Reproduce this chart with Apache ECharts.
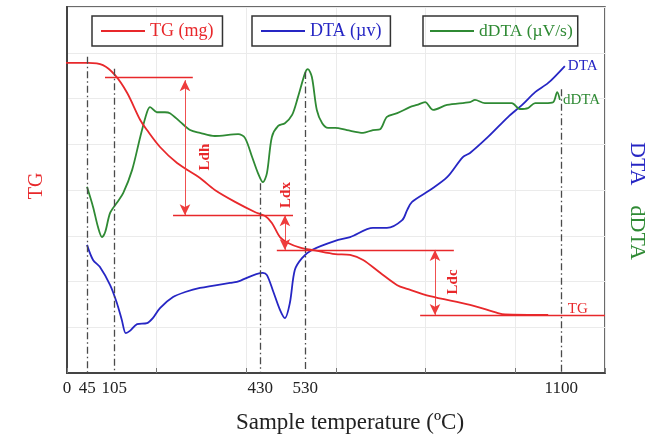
<!DOCTYPE html>
<html><head><meta charset="utf-8">
<script src="https://cdn.jsdelivr.net/npm/echarts@6/dist/echarts.min.js"></script>
<style>html,body{margin:0;padding:0;background:#fff}#c{width:660px;height:436px}</style>
</head><body><div id="c"></div>
<script>
// ---- data ----
const tickLabels = [0, 45, 105, 430, 530, 1100];
const markerTemps = [45, 105, 430, 530, 1100];
const markerTops = [6.91, 6.65, 4.15, 6.58, 6.2];

const tgTemp = [-11, 47, 80, 107, 134, 163, 178, 207, 245, 296, 329, 374, 418, 441, 456, 474, 492, 519, 552, 597, 630, 659, 697, 735, 757, 808, 897, 959, 975, 1071];
const tgMass = [6.78, 6.78, 6.73, 6.51, 6.12, 5.53, 5.31, 4.94, 4.59, 4.26, 4.00, 3.74, 3.52, 3.43, 3.28, 2.97, 2.84, 2.74, 2.68, 2.60, 2.58, 2.47, 2.19, 1.92, 1.84, 1.68, 1.49, 1.31, 1.28, 1.27];

const dtaTemp = [44.5, 58, 73, 96, 111, 122, 131, 140, 156, 178, 191, 207, 236, 263, 296, 363, 378, 436, 445, 458, 474, 485, 496, 507, 523, 545, 597, 630, 681, 712, 746, 757, 768, 808, 846, 881, 897, 937, 982, 1013, 1042, 1071, 1108];
const dtaVal = [2.80, 2.47, 2.32, 1.92, 1.53, 1.16, 0.87, 0.92, 1.07, 1.09, 1.20, 1.42, 1.66, 1.77, 1.86, 1.97, 1.99, 2.19, 2.14, 1.81, 1.38, 1.20, 1.53, 2.25, 2.51, 2.69, 2.89, 2.97, 3.17, 3.17, 3.34, 3.56, 3.74, 4.00, 4.28, 4.72, 4.81, 5.16, 5.60, 5.86, 6.14, 6.34, 6.71];

const ddtaTemp = [44.5, 58, 69, 78, 85, 96, 111, 125, 145, 163, 178, 185, 200, 218, 229, 252, 274, 296, 329, 381, 396, 412, 425, 436, 445, 456, 470, 485, 501, 514, 530, 536, 545, 556, 568, 581, 597, 623, 659, 681, 697, 712, 735, 763, 779, 797, 815, 846, 897, 908, 930, 959, 990, 1008, 1026, 1042, 1064, 1082, 1091, 1097];
const ddtaVal = [4.07, 3.63, 3.19, 2.97, 3.08, 3.50, 3.72, 3.93, 4.44, 5.16, 5.70, 5.81, 5.70, 5.70, 5.68, 5.49, 5.31, 5.25, 5.18, 5.22, 5.14, 4.72, 4.37, 4.17, 4.37, 5.16, 5.40, 5.46, 5.64, 6.03, 6.56, 6.64, 6.47, 5.75, 5.46, 5.36, 5.36, 5.31, 5.25, 5.31, 5.33, 5.60, 5.68, 5.81, 5.86, 5.92, 5.75, 5.86, 5.92, 5.97, 5.90, 5.90, 5.90, 5.77, 5.79, 5.90, 5.90, 5.92, 6.14, 5.97];

// ---- styling ----
const red = '#e8282b', blue = '#2626c4', green = '#2f8a34';
const serif = "'Liberation Serif','Times New Roman',serif";
const zip = (a, b) => a.map((t, i) => [t, b[i]]);
const X_MAX = 1197.4;

const dashdot = {color: '#4a4a4a', width: 1.3, type: [7, 3, 1.5, 3]};
const hl = {color: red, width: 1.4, type: 'solid'};
const al = {color: '#ee3c3c', width: 0.9, type: 'solid'};
const arrowEnd = {symbol: 'arrow', symbolSize: [8, 11]};

const lineMarks = markerTemps.map((t, i) => [
  {coord: [t, markerTops[i]], lineStyle: dashdot}, {coord: [t, 0]}
]).concat([
  [{coord: [84.6, 6.47], lineStyle: hl}, {coord: [280, 6.47]}],
  [{coord: [236, 3.45], lineStyle: hl}, {coord: [503, 3.45]}],
  [{coord: [467, 2.69], lineStyle: hl}, {coord: [861, 2.69]}],
  [{coord: [786, 1.27], lineStyle: hl}, {coord: [X_MAX, 1.27]}],
  [Object.assign({coord: [262.6, 6.40], lineStyle: al}, arrowEnd), Object.assign({coord: [262.6, 3.45]}, arrowEnd)],
  [Object.assign({coord: [485, 3.45], lineStyle: al}, arrowEnd), Object.assign({coord: [485, 2.69]}, arrowEnd)],
  [Object.assign({coord: [819, 2.69], lineStyle: al}, arrowEnd), Object.assign({coord: [819, 1.27]}, arrowEnd)]
]);

const bold = {show: true, position: 'inside', rotate: 90, color: red, fontSize: 15, fontWeight: 'bold', fontFamily: serif};
const legendCommon = {
  icon: 'rect', itemWidth: 44, itemHeight: 2, top: 16, selectedMode: false,
  borderColor: '#333', borderWidth: 1.5, padding: [6, 9, 6, 9]
};

const chart = echarts.init(document.getElementById('c'), null, {renderer: 'canvas'});
chart.setOption({
  animation: false,
  backgroundColor: '#fff',
  grid: {left: 67, right: 55, top: 7, bottom: 63, containLabel: false, outerBoundsMode: 'none',
         show: true, borderColor: '#3a3a3a', borderWidth: 1.5},
  legend: [
    Object.assign({}, legendCommon, {left: 92, data: ['TG (mg)'], textStyle: {color: red, fontSize: 18, fontFamily: serif}}),
    Object.assign({}, legendCommon, {left: 252, data: ['DTA (µv)'], textStyle: {color: blue, fontSize: 18, fontFamily: serif}}),
    Object.assign({}, legendCommon, {left: 423, padding: [6, 5, 6, 7], data: ['dDTA (µV/s)'], textStyle: {color: green, fontSize: 17.5, fontFamily: serif}})
  ],
  xAxis: [
    {type: 'value', min: 0, max: X_MAX, interval: X_MAX / 6,
     axisLine: {lineStyle: {color: '#444', width: 2}},
     axisTick: {inside: true, length: 5, lineStyle: {color: '#777'}},
     axisLabel: {show: false},
     splitLine: {lineStyle: {color: '#ebebeb'}},
     name: 'Sample temperature (ºC)', nameLocation: 'middle', nameGap: 38,
     nameTextStyle: {fontFamily: serif, fontSize: 23, color: '#222', padding: [0, 0, 0, 28]}},
    {type: 'value', min: 0, max: X_MAX, position: 'bottom',
     axisLine: {show: false}, axisTick: {show: false}, splitLine: {show: false},
     axisLabel: {customValues: tickLabels, margin: 7, fontFamily: serif, fontSize: 17, color: '#222',
       formatter: v => String(v)}}
  ],
  yAxis: [
    {type: 'value', min: 0, max: 8, interval: 1, position: 'left',
     axisLine: {show: true, lineStyle: {color: '#444', width: 2}},
     axisTick: {show: false},
     axisLabel: {show: false}, splitLine: {lineStyle: {color: '#ebebeb'}},
     name: 'TG', nameLocation: 'middle', nameRotate: 90, nameGap: 20,
     nameTextStyle: {color: red, fontSize: 20, fontFamily: serif, padding: [0, 0, 0, 8]}},
    {type: 'value', min: 0, max: 8, interval: 1, position: 'right',
     axisLine: {show: true, lineStyle: {color: '#444', width: 2}},
     axisTick: {show: false},
     axisLabel: {show: false}, splitLine: {show: false},
     name: '{a|DTA}      {b|dDTA}', nameLocation: 'middle', nameRotate: -90, nameGap: 21,
     nameTextStyle: {padding: [0, 0, 0, 22], rich: {
       a: {color: blue, fontSize: 22, fontFamily: serif},
       b: {color: green, fontSize: 22, fontFamily: serif}}}},
    {type: 'value', min: 0, max: 8, show: false}
  ],
  series: [
    {name: 'TG (mg)', type: 'line', xAxisIndex: 0, yAxisIndex: 0, data: zip(tgTemp, tgMass),
     showSymbol: false, smooth: 0.3, clip: false, z: 4,
     lineStyle: {color: red, width: 1.8}, itemStyle: {color: red},
     markLine: {silent: true, symbol: ['none', 'none'], label: {show: false}, data: lineMarks},
     markPoint: {silent: true, symbol: 'circle', symbolSize: 0, data: [
       {coord: [-11, 6.78], label: {show: true, position: 'left', distance: 6, formatter: 'initial\nmass',
         color: red, fontSize: 16, lineHeight: 19, align: 'right', fontFamily: serif}},
       {coord: [307, 4.72], label: Object.assign({}, bold, {formatter: 'Ldh'})},
       {coord: [487, 3.89], label: Object.assign({}, bold, {formatter: 'Ldx'})},
       {coord: [859, 1.99], label: Object.assign({}, bold, {formatter: 'Ldc'})},
       {coord: [1137, 1.40], label: {show: true, position: 'inside', formatter: 'TG', color: red, fontSize: 15, fontFamily: serif}}
     ]}},
    {name: 'DTA (µv)', type: 'line', xAxisIndex: 0, yAxisIndex: 1, data: zip(dtaTemp, dtaVal),
     showSymbol: false, smooth: 0.3, z: 3,
     lineStyle: {color: blue, width: 1.8}, itemStyle: {color: blue},
     markPoint: {silent: true, symbol: 'circle', symbolSize: 0, data: [
       {coord: [1108, 6.71], label: {show: true, position: 'right', distance: 3, formatter: 'DTA', color: blue, fontSize: 15, fontFamily: serif}}
     ]}},
    {name: 'dDTA (µV/s)', type: 'line', xAxisIndex: 0, yAxisIndex: 2, data: zip(ddtaTemp, ddtaVal),
     showSymbol: false, smooth: 0.3, z: 3,
     lineStyle: {color: green, width: 1.8}, itemStyle: {color: green},
     markPoint: {silent: true, symbol: 'circle', symbolSize: 0, data: [
       {coord: [1097, 5.97], label: {show: true, position: 'right', distance: 3, formatter: 'dDTA', color: green, fontSize: 15, fontFamily: serif}}
     ]}}
  ]
});
</script></body></html>
